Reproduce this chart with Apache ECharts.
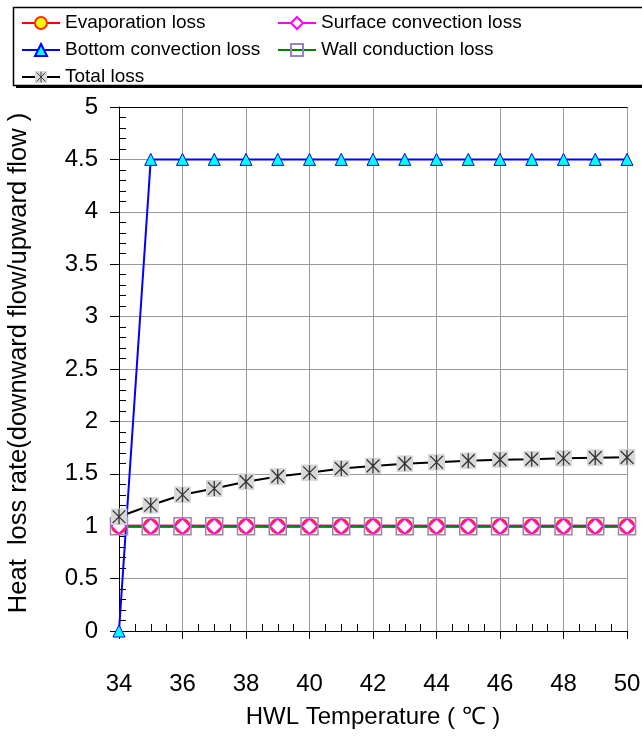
<!DOCTYPE html>
<html>
<head>
<meta charset="utf-8">
<script src="https://cdn.jsdelivr.net/npm/echarts@6/dist/echarts.min.js"></script>
<style>html,body{margin:0;padding:0;background:#fff;}#c{width:642px;height:738px;}</style>
</head>
<body>
<div id="c"></div>
<script>
var temps = [34,35,36,37,38,39,40,41,42,43,44,45,46,47,48,49,50];
var evaporation = [1,1,1,1,1,1,1,1,1,1,1,1,1,1,1,1,1];
var surfaceConv = [1,1,1,1,1,1,1,1,1,1,1,1,1,1,1,1,1];
var bottomConv = [0,4.5,4.5,4.5,4.5,4.5,4.5,4.5,4.5,4.5,4.5,4.5,4.5,4.5,4.5,4.5,4.5];
var wallCond = [1,1,1,1,1,1,1,1,1,1,1,1,1,1,1,1,1];
var totalLoss = [1.09,1.2,1.3,1.36,1.425,1.475,1.51,1.55,1.575,1.597,1.61,1.625,1.635,1.64,1.648,1.654,1.657];
var names = ['Evaporation loss','Surface convection loss','Bottom convection loss','Wall conduction loss','Total loss'];

function pairs(v){ return temps.map(function(t,i){ return [t, v[i]]; }); }

var starSvg = '<svg xmlns="http://www.w3.org/2000/svg" width="16" height="16"><rect x="0" y="0" width="16" height="16" fill="#d8d8d8"/><path d="M2 2L14 14M14 2L2 14M8 1L8 15" stroke="#333" stroke-width="1.2" fill="none"/></svg>';
var starSymbol = 'image://data:image/svg+xml;charset=utf-8,' + encodeURIComponent(starSvg);

var chart = echarts.init(document.getElementById('c'));
var font = 'Liberation Sans, Arial, sans-serif';
chart.setOption({
  animation: false,
  backgroundColor: '#fff',
  graphic: [
    {type:'rect', shape:{x:16, y:9, width:640, height:79}, style:{fill:'#000'}, z:0},
    {type:'rect', shape:{x:13.5, y:7.5, width:640, height:78}, style:{fill:'#fff', stroke:'#000', lineWidth:1.5}, z:1}
  ],
  legend: [
    {data:[names[0], names[2], names[4]], orient:'vertical', left:21, top:13.5, padding:0, itemWidth:38, itemHeight:15, itemGap:8,
     textStyle:{fontFamily:font, fontSize:19, color:'#000', lineHeight:19}, z:5},
    {data:[names[1], names[3]], orient:'vertical', left:277, top:13.5, padding:0, itemWidth:38, itemHeight:15, itemGap:8,
     textStyle:{fontFamily:font, fontSize:19, color:'#000', lineHeight:19}, z:5}
  ],
  grid: {left:119, right:15, top:107, bottom:107, outerBoundsMode:'none', containLabel:false},
  xAxis: [
    {type:'value', min:34, max:50, interval:2, position:'bottom',
     axisLine:{show:true, onZero:false, lineStyle:{color:'#000', width:1}},
     axisTick:{show:true, inside:false, length:8, lineStyle:{color:'#000'}},
     axisLabel:{margin:41, fontSize:24, color:'#000', fontFamily:font},
     splitLine:{show:true, lineStyle:{color:'#9a9a9a', width:1}},
     name:'HWL Temperature ( ℃ )', nameLocation:'middle', nameGap:74,
     nameTextStyle:{fontSize:24, color:'#000', fontFamily:font}},
    {type:'value', min:34, max:50, interval:2, position:'bottom',
     axisLine:{show:false, onZero:false}, axisTick:{show:false, inside:true},
     minorTick:{show:true, splitNumber:4, length:7, lineStyle:{color:'#000'}},
     axisLabel:{show:false}, splitLine:{show:false}},
    {type:'value', min:34, max:50, position:'top',
     axisLine:{show:true, onZero:false, lineStyle:{color:'#000', width:1}},
     axisTick:{show:false}, axisLabel:{show:false}, splitLine:{show:false}}
  ],
  yAxis: [
    {type:'value', min:0, max:5, interval:0.5, position:'left',
     axisLine:{show:true, onZero:false, lineStyle:{color:'#000', width:1}},
     axisTick:{show:true, inside:false, length:9, lineStyle:{color:'#000'}},
     axisLabel:{margin:21, fontSize:24, color:'#000', fontFamily:font},
     splitLine:{show:true, lineStyle:{color:'#9a9a9a', width:1}},
     name:'Heat  loss rate(downward flow/upward flow )', nameLocation:'middle', nameGap:87,
     nameTextStyle:{fontSize:25.5, color:'#000', fontFamily:font, padding:[0,0,0,12]}},
    {type:'value', min:0, max:5, interval:0.5, position:'left',
     axisLine:{show:false, onZero:false}, axisTick:{show:false, inside:true},
     minorTick:{show:true, splitNumber:5, length:7, lineStyle:{color:'#000'}},
     axisLabel:{show:false}, splitLine:{show:false}}
  ],
  series: [
    {name:names[0], type:'line', data:pairs(evaporation), symbol:'circle', symbolSize:14,
     lineStyle:{color:'#ff0000', width:3}, itemStyle:{color:'#ffff00', borderColor:'#ff2a00', borderWidth:2}},
    {name:names[1], type:'line', data:pairs(surfaceConv), symbol:'diamond', symbolSize:15,
     lineStyle:{color:'#ff00ff', width:3}, itemStyle:{color:'#ffffff', borderColor:'#ff00ff', borderWidth:1.5}},
    {name:names[2], type:'line', data:pairs(bottomConv), symbol:'triangle', symbolSize:12,
     lineStyle:{color:'#0000ff', width:2}, itemStyle:{color:'#00ffff', borderColor:'#0000ff', borderWidth:1}},
    {name:names[3], type:'line', data:pairs(wallCond), symbol:'rect', symbolSize:17,
     lineStyle:{color:'#008000', width:2}, itemStyle:{color:'rgba(0,0,0,0)', borderColor:'#9b7fc5', borderWidth:1.5}},
    {name:names[4], type:'line', data:pairs(totalLoss), symbol:starSymbol, symbolSize:17,
     lineStyle:{color:'#000000', width:2}, itemStyle:{color:'#000'}}
  ]
});
</script>
</body>
</html>
